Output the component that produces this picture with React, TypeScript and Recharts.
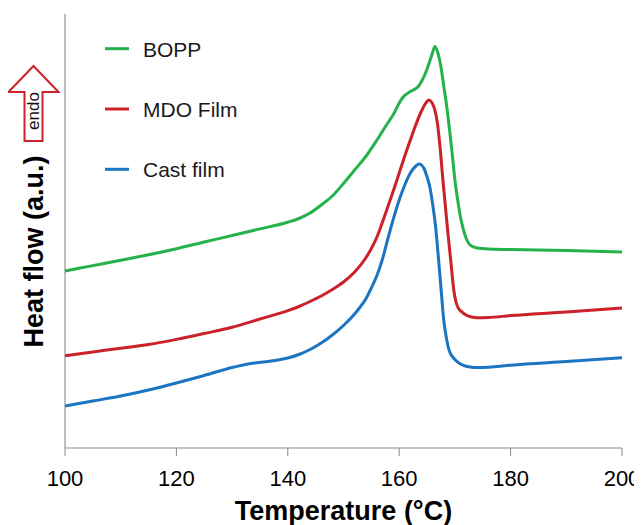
import { Line, LineChart, XAxis, YAxis } from "recharts";

// DSC curves, heat flow (arbitrary units, baseline = 0 at the bottom axis)
const boppTemp = [100, 105, 110, 115, 120, 125, 130, 135, 140, 142, 144, 146, 148, 150, 152, 154, 156, 158, 159, 160, 160.5, 161, 162, 163, 163.5, 164, 164.5, 165, 165.5, 166, 166.4, 167, 167.5, 168, 168.5, 169, 169.5, 170, 170.5, 171, 171.5, 172, 172.5, 173, 174, 176, 180, 190, 200];
const boppFlow = [177, 182.4, 187.8, 193.2, 199.3, 206, 212.5, 219.1, 225.8, 229.5, 235, 243, 252, 264.5, 278, 291.5, 308, 325.5, 334, 345, 349.5, 352.5, 356.5, 359.5, 362, 366.5, 372, 379, 387, 395.5, 401.5, 394, 381, 362, 343, 320, 295, 268, 248, 231, 219, 210, 204.5, 202, 200, 199, 198.5, 197.5, 196];

const mdoTemp = [100, 105, 110, 115, 120, 125, 130, 135, 140, 142, 144, 146, 148, 150, 152, 154, 155, 156, 157, 158, 159, 160, 161, 162, 163, 164, 164.5, 165, 165.3, 165.8, 166.3, 166.8, 167.3, 167.8, 168.3, 168.8, 169.3, 169.8, 170.2, 170.6, 171.2, 172, 173, 174, 176, 180, 190, 200];
const mdoFlow = [92.3, 96, 99.8, 103.5, 108.6, 114.5, 120.7, 129, 137.3, 141.5, 146.5, 152, 158.5, 166, 176, 190, 199.5, 211, 226, 242, 258, 275, 292, 308, 323.5, 337, 342.5, 346.5, 348, 346, 340, 327, 303, 271, 241, 212, 185, 158, 146, 140, 136.3, 133, 131, 130.3, 130.5, 132.4, 135.9, 140];

const castTemp = [100, 105, 110, 115, 120, 125, 130, 132, 134, 136, 138, 140, 142, 144, 146, 148, 150, 152, 153, 154, 155, 156, 157, 158, 159, 160, 161, 162, 163, 163.6, 164, 164.5, 165, 165.5, 166, 166.5, 167, 167.5, 168, 168.5, 169, 170, 171, 172, 173, 174, 176, 180, 190, 200];
const castFlow = [42, 47, 52, 58, 65, 72.5, 80.5, 83, 85, 86.3, 87.8, 90, 93.5, 98.5, 105, 113, 122.5, 134, 141, 149, 160, 172.5, 189, 210, 230, 248, 263, 275, 282, 284, 283, 279, 271, 261, 244, 223, 193, 160, 128, 109, 97, 88.5, 84, 81.8, 80.8, 80.5, 80.7, 82.8, 86.5, 90.3];

const xTicks = [100, 120, 140, 160, 180, 200];

const toPoints = (temps: number[], flows: number[]) => temps.map((t, i) => ({ t, v: flows[i] }));

const series = [
  { name: "BOPP", color: "#25b24b", data: toPoints(boppTemp, boppFlow) },
  { name: "MDO Film", color: "#cb2229", data: toPoints(mdoTemp, mdoFlow) },
  { name: "Cast film", color: "#1b75c2", data: toPoints(castTemp, castFlow) }
];

const font = '"Liberation Sans", Arial, sans-serif';
const W = 634;
const H = 517;

export default function App() {
  return (
    <div style={{ position: "relative", width: W, height: H, fontFamily: font }}>
      <LineChart width={W} height={H} margin={{ top: 6, right: 20, left: 0, bottom: 0 }}>
        <XAxis
          dataKey="t"
          type="number"
          domain={[100, 200]}
          ticks={xTicks}
          allowDuplicatedCategory={false}
          height={77}
          tickSize={8}
          tickMargin={14}
          stroke="#8a8a8a"
          tick={{ fill: "#000", fontSize: 22, fontFamily: font }}
        />
        <XAxis xAxisId="top" orientation="top" type="number" domain={[100, 200]} height={0} tick={false} tickLine={false} stroke="#7f7f7f" />
        <YAxis type="number" domain={[0, 434]} width={57} tick={false} tickLine={false} stroke="#7f7f7f" />
        <YAxis yAxisId="right" orientation="right" type="number" domain={[0, 434]} width={0} tick={false} tickLine={false} stroke="#c4c4c4" />
        {series.map((s) => (
          <Line
            key={s.name}
            data={s.data}
            dataKey="v"
            name={s.name}
            type="monotone"
            stroke={s.color}
            strokeWidth={3}
            dot={false}
            activeDot={false}
            isAnimationActive={false}
          />
        ))}
      </LineChart>

      <svg width={W} height={H} style={{ position: "absolute", left: 0, top: 0, pointerEvents: "none" }}>
        {/* endo arrow */}
        <polygon
          points="25.5,58 50.5,84 34.5,84 34.5,133 16.5,133 16.5,84 0.5,84"
          fill="#fff"
          stroke="#cb2229"
          strokeWidth={2}
        />
        <text
          x={25.5}
          y={103}
          transform="rotate(-90 25.5 103)"
          textAnchor="middle"
          dominantBaseline="central"
          fontSize={17}
          fill="#111"
          fontFamily={font}
        >
          endo
        </text>

        <text
          x={26}
          y={243.5}
          transform="rotate(-90 26 243.5)"
          textAnchor="middle"
          dominantBaseline="central"
          fontSize={27}
          fontWeight="bold"
          fill="#000"
          fontFamily={font}
        >
          Heat flow (a.u.)
        </text>

        <text x={335.5} y={512} textAnchor="middle" fontSize={27} fontWeight="bold" fill="#000" fontFamily={font}>
          Temperature (°C)
        </text>

        {series.map((s, i) => (
          <g key={s.name}>
            <line x1={97} x2={121} y1={40.7 + i * 60.3} y2={40.7 + i * 60.3} stroke={s.color} strokeWidth={3} />
            <text x={135} y={48.7 + i * 60} fontSize={21} fill="#1a1a1a" fontFamily={font}>
              {s.name}
            </text>
          </g>
        ))}
      </svg>
    </div>
  );
}
